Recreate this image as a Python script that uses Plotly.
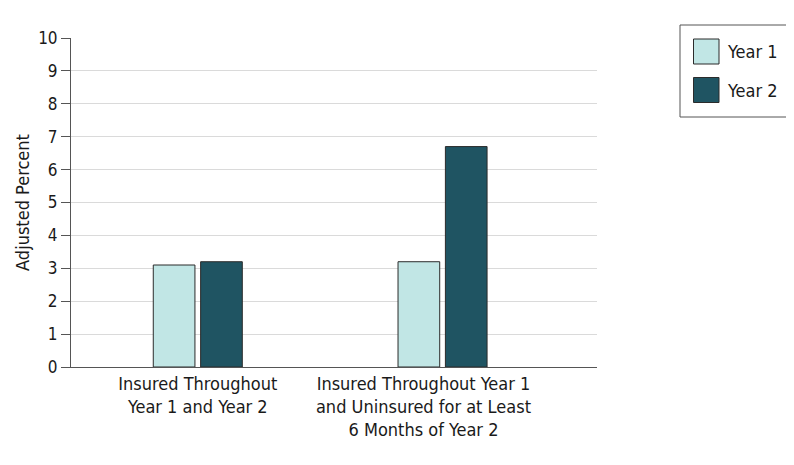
import plotly.graph_objects as go

# data
categories = [
    "Insured Throughout<br>Year 1 and Year 2",
    "Insured Throughout Year 1<br>and Uninsured for at Least<br>6 Months of Year 2",
]
series_names = ["Year 1", "Year 2"]
year1 = [3.1, 3.2]
year2 = [3.2, 6.7]
y_ticks = list(range(0, 11))

colors = ["#c1e6e5", "#1f5462"]
font_fam = "DejaVu Sans Condensed, Roboto, sans-serif"

# the page is shown with an 8px body margin, so offset everything by that
shift = 8
plot_l, plot_r, plot_t, plot_b = 71, 597, 38, 367


def px_x(p):
    return (p - plot_l) / (plot_r - plot_l)


def px_y(p):
    return (plot_b - p) / (plot_b - plot_t)


xpos = list(range(len(categories)))

fig = go.Figure()
for name, vals, col in zip(series_names, [year1, year2], colors):
    fig.add_trace(go.Bar(
        x=xpos, y=vals, name=name, showlegend=False,
        marker=dict(color=col, line=dict(color="#2b2b2b", width=1)),
    ))

# legend drawn by hand so swatches can be as big as in the original
shapes = [dict(type="rect", xref="paper", yref="paper",
               x0=px_x(680), x1=px_x(791), y0=px_y(25), y1=px_y(117),
               line=dict(color="#555555", width=1), fillcolor="white")]
annotations = []
for i, (name, col) in enumerate(zip(series_names, colors)):
    top = 39 + i * 38.5
    shapes.append(dict(type="rect", xref="paper", yref="paper",
                       x0=px_x(693.5), x1=px_x(719), y0=px_y(top), y1=px_y(top + 25),
                       line=dict(color="#2b2b2b", width=1), fillcolor=col))
    annotations.append(dict(xref="paper", yref="paper", x=px_x(725), y=px_y(top + 12.5),
                            text=name, showarrow=False, xanchor="left", yanchor="middle",
                            font=dict(size=18)))

fig.update_layout(
    width=794, height=465,
    margin=dict(l=plot_l - shift, r=794 - plot_r + shift, t=plot_t - shift,
                b=465 - plot_b + shift),
    plot_bgcolor="white", paper_bgcolor="white",
    font=dict(family=font_fam, size=17, color="#1a1a1a"),
    barmode="group", bargap=0.613, bargroupgap=0.12,
    shapes=shapes, annotations=annotations,
)
fig.update_yaxes(
    range=[0, 10], tickvals=y_ticks, showgrid=True, gridcolor="#dadada",
    showline=True, linecolor="#555555", ticks="outside", ticklen=9,
    tickcolor="#555555", zeroline=False, tickfont=dict(size=17),
    title=dict(text="Adjusted Percent", font=dict(size=18), standoff=3),
)
fig.update_xaxes(
    range=[-0.518, 1.631], showline=True, linecolor="#555555", ticks="",
    showgrid=False, zeroline=False,
    tickvals=[0, 0.922], ticktext=categories, tickfont=dict(size=18),
)

fig.write_html("out.html")
